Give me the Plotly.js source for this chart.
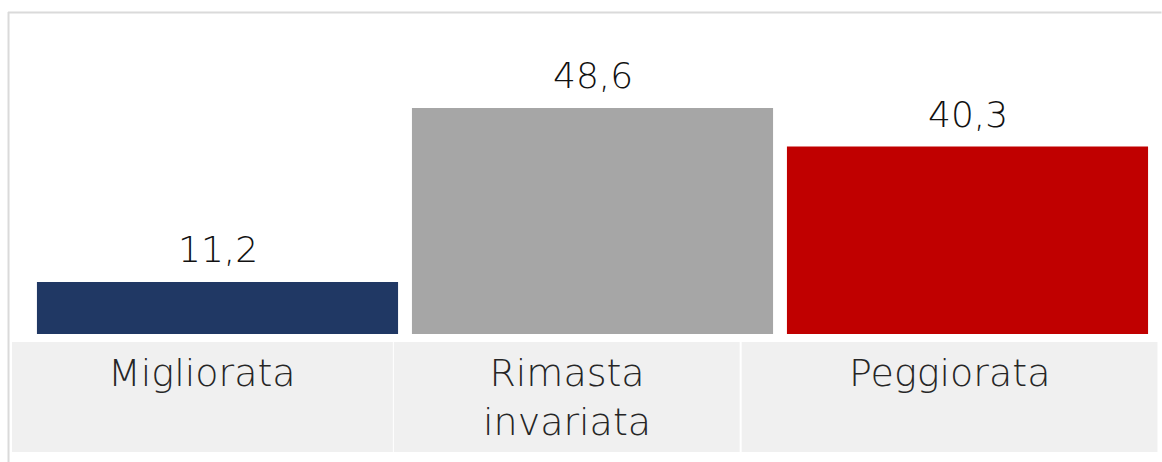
<!DOCTYPE html>
<html>
<head>
<meta charset="utf-8">
<script src="https://cdn.plot.ly/plotly-3.0.1.min.js"></script>
<style>html,body{margin:0;padding:0;background:#fff;}</style>
</head>
<body>
<div id="chart" style="width:1162px;height:462px;"></div>
<script>
const categories = ["Migliorata", "Rimasta invariata", "Peggiorata"];
const categoryLabels = ["Migliorata", "Rimasta<br>invariata", "Peggiorata"];
const values = [11.2, 48.6, 40.3];
const colors = ["#203864", "#a6a6a6", "#c00000"];

const FONT = "'DejaVu Sans', Lato, sans-serif";
const W = 1162, H = 462;
const mL = 30, mR = 6.5, mT = 13, mB = 128;
const pw = W - mL - mR, ph = H - mT - mB;
const px = x => (x - mL) / pw;
const py = y => (H - mB - y) / ph;

// category label cells (pixel bounds)
const cells = [[12, 393], [394, 740], [742, 1158]];

const shapes = [];
cells.forEach(c => {
  shapes.push({type: "rect", xref: "paper", yref: "paper",
    x0: px(c[0]), x1: px(c[1]), y0: py(452), y1: py(342),
    fillcolor: "#f0f0f0", line: {width: 0}, layer: "below"});
});
// frame lines
shapes.push({type: "line", xref: "paper", yref: "paper",
  x0: px(8), x1: px(1162), y0: py(12.5), y1: py(12.5),
  line: {color: "#dadada", width: 2}});
shapes.push({type: "line", xref: "paper", yref: "paper",
  x0: px(8.5), x1: px(8.5), y0: py(12), y1: py(462),
  line: {color: "#dadada", width: 2}});

const annotations = [];
values.forEach((v, i) => {
  annotations.push({x: categories[i], y: v, xref: "x", yref: "y",
    text: String(v.toFixed(1)).replace(".", ","), showarrow: false,
    xanchor: "center", yanchor: "bottom", yshift: 10,
    font: {family: FONT, size: 36, weight: 200, color: "#111"}});
});
categoryLabels.forEach((t, i) => {
  const c = cells[i];
  annotations.push({x: px((c[0] + c[1]) / 2), y: py(349), xref: "paper", yref: "paper",
    text: t, showarrow: false, xanchor: "center", yanchor: "top", align: "center",
    font: {family: FONT, size: 38, weight: 200, color: "#262626"}});
});

const trace = {
  type: "bar",
  x: categories,
  y: values,
  marker: {color: colors, line: {width: 0}},
  hoverinfo: "skip"
};

const layout = {
  width: W, height: H,
  margin: {l: mL, r: mR, t: mT, b: mB, pad: 0},
  paper_bgcolor: "#fff", plot_bgcolor: "#fff",
  bargap: 0.037,
  showlegend: false,
  xaxis: {showticklabels: false, showgrid: false, zeroline: false, showline: false, ticks: ""},
  yaxis: {range: [0, 69], showticklabels: false, showgrid: false, zeroline: false, showline: false, ticks: ""},
  shapes: shapes,
  annotations: annotations
};

Plotly.newPlot("chart", [trace], layout, {staticPlot: true, displayModeBar: false});
</script>
</body>
</html>
